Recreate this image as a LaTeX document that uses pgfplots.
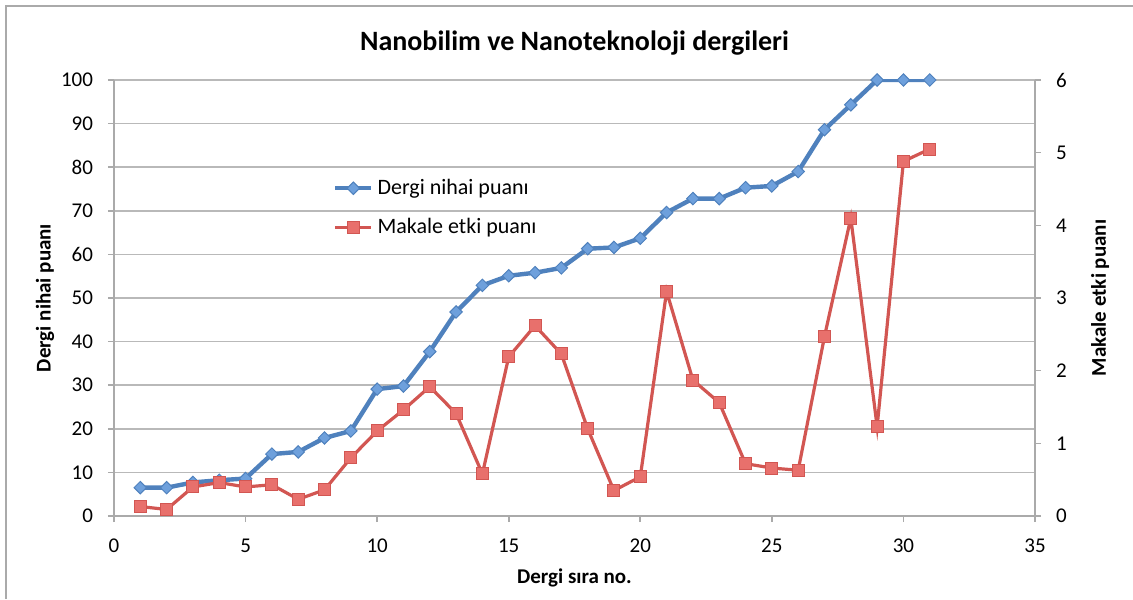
\documentclass[border=0pt]{standalone}
\usepackage{fontspec}
\setmainfont{Carlito}
\usepackage{pgfplots}
\pgfplotsset{compat=1.18}

\definecolor{axisgray}{RGB}{170,170,170}
\definecolor{gridgray}{RGB}{185,185,185}
\definecolor{serblue}{RGB}{79,129,189}
\definecolor{markblue}{RGB}{110,160,220}
\definecolor{serred}{RGB}{210,86,82}
\definecolor{markred}{RGB}{232,112,108}

% Dergi nihai puani (left axis)
\pgfplotstableread{
x y
1 6.5
2 6.5
3 7.7
4 8.2
5 8.6
6 14.2
7 14.7
8 17.9
9 19.5
10 29.1
11 29.8
12 37.7
13 46.8
14 52.9
15 55.1
16 55.8
17 56.9
18 61.3
19 61.6
20 63.7
21 69.6
22 72.8
23 72.8
24 75.3
25 75.7
26 79.0
27 88.6
28 94.3
29 100
30 100
31 100
}\dergi

% Makale etki puani (right axis)
\pgfplotstableread{
x y
1 0.13
2 0.09
3 0.40
4 0.46
5 0.40
6 0.43
7 0.23
8 0.36
9 0.80
10 1.17
11 1.46
12 1.78
13 1.41
14 0.58
15 2.19
16 2.62
17 2.23
18 1.20
19 0.35
20 0.54
21 3.09
22 1.87
23 1.56
24 0.72
25 0.66
26 0.63
27 2.47
28 4.10
29 1.23
30 4.88
31 5.05
}\makale

\begin{document}
\begin{tikzpicture}
\useasboundingbox (0,0) rectangle (566.5pt,299.5pt);
\draw[axisgray, line width=0.8pt] (3pt,0) -- (3pt,296.5pt) -- (566.5pt,296.5pt);

\pgfplotsset{
  every axis/.append style={
    scale only axis,
    width=460.5pt, height=218pt,
    at={(57pt,41.5pt)}, anchor=south west,
    xmin=0, xmax=35,
    tick align=outside,
    major tick length=3pt,
    tick style={axisgray, line width=0.8pt},
    axis line style={axisgray, line width=0.8pt, -},
    tick label style={font=\fontsize{10.5}{12}\selectfont, black},
    /pgf/number format/assume math mode=true,
    label style={font=\bfseries\fontsize{10.5}{12}\selectfont},
  },
}

\begin{axis}[
  axis x line*=bottom, axis y line*=left,
  ymin=0, ymax=100,
  ytick={0,10,...,100},
  xtick={0,5,...,35},
  ymajorgrids,
  grid style={gridgray, line width=0.8pt},
  yticklabel style={xshift=-4pt},
  xticklabel style={yshift=-5pt},
  title={Nanobilim ve Nanoteknoloji dergileri},
  title style={at={(0.5,1.087)}, anchor=center, yshift=-6.5pt,
    font=\bfseries\fontsize{14}{16}\selectfont},
  xlabel={Dergi sıra no.},
  xlabel style={at={(0.5,-0.142)}, anchor=center},
  ylabel={Dergi nihai puanı},
  ylabel style={at={(-0.075,0.5)}, anchor=center},
]
\addplot[serblue, line width=2.2pt, mark=square*, mark size=2.2pt,
  mark options={rotate=45, fill=markblue, draw=serblue, line width=0.5pt}]
  table[x=x, y=y] {\dergi};
\end{axis}

\begin{axis}[
  axis x line=none, axis y line*=right,
  ymin=0, ymax=6,
  ytick={0,1,...,6},
  yticklabel style={xshift=4pt},
  ylabel={Makale etki puanı},
  ylabel style={at={(1.0706,0.5)}, anchor=center, rotate=0},
  legend style={at={(0.231,0.792)}, anchor=north west, draw=none, fill=none,
    font=\fontsize{11}{13}\selectfont, row sep=6.5pt, cells={anchor=west},
    /tikz/every even column/.append style={column sep=0pt}},
  legend image code/.code={
    \draw[#1, mark repeat=2, mark phase=2] plot coordinates {(0pt,0pt) (9pt,0pt) (18pt,0pt)};
  },
]
\addlegendimage{serblue, line width=2.2pt, mark=square*, mark size=2.2pt,
  mark options={rotate=45, fill=markblue, draw=serblue, line width=0.5pt}}
\addlegendentry{Dergi nihai puanı}
\addplot[serred, line width=1.6pt, mark=square*, mark size=3pt,
  mark options={fill=markred, draw=serred, line width=0.5pt}]
  table[x=x, y=y] {\makale};
\addlegendentry{Makale etki puanı}
\end{axis}
\end{tikzpicture}
\end{document}
